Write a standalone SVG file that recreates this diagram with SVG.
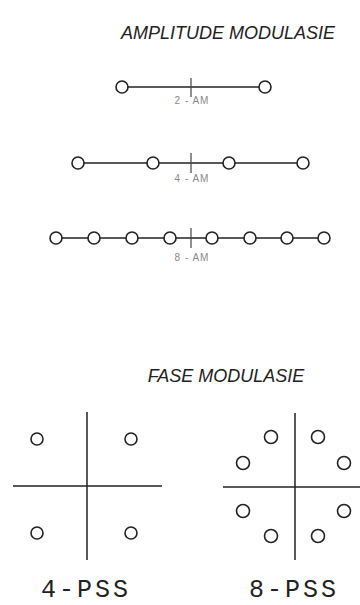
<svg xmlns="http://www.w3.org/2000/svg" width="360" height="605" viewBox="0 0 360 605">
  <style>
    .title { font-family: "Liberation Sans", Arial, sans-serif; font-style: italic; font-size: 18px; fill: #222; }
    .amlbl { font-family: "Liberation Sans", Arial, sans-serif; font-size: 10px; fill: #888; letter-spacing: 1px; }
    .psklbl { font-family: "Liberation Mono", "Courier New", monospace; font-size: 25px; fill: #222; letter-spacing: 3px; }
    .ln { stroke: #222; stroke-width: 1.5; fill: none; }
    .tick { stroke: #444; stroke-width: 1.2; fill: none; }
    .pt { stroke: #222; stroke-width: 1.6; fill: #fff; }
  </style>

  <rect width="360" height="605" fill="#fff"/>

  <text class="title" x="228" y="39" text-anchor="middle">AMPLITUDE MODULASIE</text>

  <!-- 2-AM -->
  <g id="am2">
    <line class="ln" x1="122" y1="87" x2="265" y2="87"/>
    <line class="tick" x1="191" y1="78" x2="191" y2="97"/>
    <circle class="pt" cx="122" cy="87" r="6"/>
    <circle class="pt" cx="265" cy="87" r="6"/>
    <text class="amlbl" x="192" y="104" text-anchor="middle">2 - AM</text>
  </g>

  <!-- 4-AM -->
  <g id="am4">
    <line class="ln" x1="78" y1="163" x2="303" y2="163"/>
    <line class="tick" x1="191" y1="153" x2="191" y2="173"/>
    <circle class="pt" cx="78" cy="163" r="6"/>
    <circle class="pt" cx="153" cy="163" r="6"/>
    <circle class="pt" cx="229" cy="163" r="6"/>
    <circle class="pt" cx="303" cy="163" r="6"/>
    <text class="amlbl" x="192" y="182" text-anchor="middle">4 - AM</text>
  </g>

  <!-- 8-AM -->
  <g id="am8">
    <line class="ln" x1="56" y1="238" x2="324" y2="238"/>
    <line class="tick" x1="191" y1="228" x2="191" y2="248"/>
    <circle class="pt" cx="56" cy="238" r="6"/>
    <circle class="pt" cx="94" cy="238" r="6"/>
    <circle class="pt" cx="132" cy="238" r="6"/>
    <circle class="pt" cx="170" cy="238" r="6"/>
    <circle class="pt" cx="212" cy="238" r="6"/>
    <circle class="pt" cx="250" cy="238" r="6"/>
    <circle class="pt" cx="287" cy="238" r="6"/>
    <circle class="pt" cx="324" cy="238" r="6"/>
    <text class="amlbl" x="192" y="261" text-anchor="middle">8 - AM</text>
  </g>

  <text class="title" x="226" y="382" text-anchor="middle">FASE MODULASIE</text>

  <!-- 4-PSS constellation -->
  <g id="pss4">
    <line class="ln" x1="87" y1="412" x2="87" y2="560"/>
    <line class="ln" x1="13" y1="486" x2="162" y2="486"/>
    <circle class="pt" cx="37" cy="439" r="6"/>
    <circle class="pt" cx="131" cy="439" r="6"/>
    <circle class="pt" cx="37" cy="533" r="6"/>
    <circle class="pt" cx="131" cy="533" r="6"/>
    <text class="psklbl" x="86" y="597" text-anchor="middle">4-PSS</text>
  </g>

  <!-- 8-PSS constellation -->
  <g id="pss8">
    <line class="ln" x1="295" y1="413" x2="295" y2="560"/>
    <line class="ln" x1="223" y1="487" x2="360" y2="487"/>
    <circle class="pt" cx="271" cy="437" r="6.5"/>
    <circle class="pt" cx="318" cy="437" r="6.5"/>
    <circle class="pt" cx="243" cy="463" r="6.5"/>
    <circle class="pt" cx="344" cy="463" r="6.5"/>
    <circle class="pt" cx="243" cy="511" r="6.5"/>
    <circle class="pt" cx="344" cy="511" r="6.5"/>
    <circle class="pt" cx="271" cy="536" r="6.5"/>
    <circle class="pt" cx="318" cy="536" r="6.5"/>
    <text class="psklbl" x="294" y="597" text-anchor="middle">8-PSS</text>
  </g>
</svg>
